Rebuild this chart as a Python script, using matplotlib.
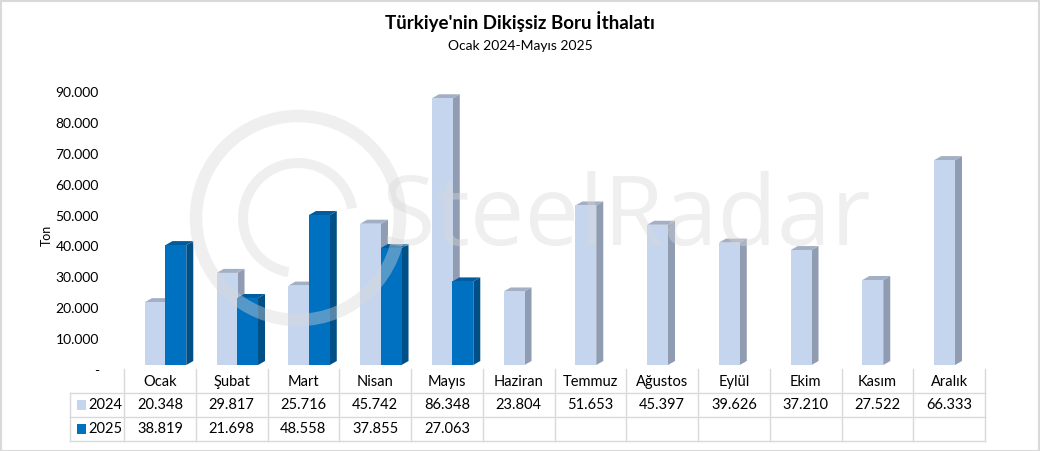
import matplotlib
matplotlib.use("Agg")
import matplotlib.pyplot as plt
import matplotlib.transforms as mtransforms
from matplotlib.patches import Polygon, Rectangle, Circle, Wedge
import numpy as np

months = ["Ocak", "Şubat", "Mart", "Nisan", "Mayıs", "Haziran", "Temmuz",
          "Ağustos", "Eylül", "Ekim", "Kasım", "Aralık"]
v2024 = [20348, 29817, 25716, 45742, 86348, 23804, 51653, 45397, 39626, 37210, 27522, 66333]
v2025 = [38819, 21698, 48558, 37855, 27063]
series_names = ["2024", "2025"]
yticks = [0, 10000, 20000, 30000, 40000, 50000, 60000, 70000, 80000, 90000]
title = "Türkiye'nin Dikişsiz Boru İthalatı"
subtitle = "Ocak 2024-Mayıs 2025"

FONT = ["Lato", "DejaVu Sans"]
plt.rcParams['font.family'] = FONT

W, H = 1040, 451
fig = plt.figure(figsize=(W / 100, H / 100), dpi=100)
fig.patch.set_facecolor("white")

# figure border
border = Rectangle((0.5 / W, 0.5 / H), 1 - 1.5 / W, 1 - 1.5 / H, transform=fig.transFigure,
                   fill=False, edgecolor="#d9d9d9", lw=1.5)
fig.patches.append(border)

x0, x1 = 124, 985
ytop, ybot = 87, 365
ax = fig.add_axes([x0 / W, (H - ybot) / H, (x1 - x0) / W, (ybot - ytop) / H])
ax.set_xlim(-0.5, 11.5)
ax.set_ylim(0, 90000)
for s in ax.spines.values():
    s.set_visible(False)
ax.set_xticks([])
ax.set_yticks(yticks)
ax.set_yticklabels(["-" if t == 0 else f"{t:,}".replace(",", ".") for t in yticks],
                   fontsize=10, color="#000000")
ax.tick_params(axis="y", length=0, pad=18)
ax.set_facecolor("none")
shift = mtransforms.ScaledTranslation(0, -5 / 100, fig.dpi_scale_trans)
for lab in ax.get_yticklabels():
    lab.set_transform(lab.get_transform() + shift)

ax.set_ylabel("Ton", fontsize=9)
ax.yaxis.set_label_coords((53 - x0) / (x1 - x0), (ybot - 235) / (ybot - ytop))

fig.text(0.5, 1 - 22 / H, title, ha="center", va="center", fontsize=13.5, fontweight="bold")
fig.text(0.5, 1 - 46 / H, subtitle, ha="center", va="center", fontsize=10)

bw = 0.29
dx = 7 / ((x1 - x0) / 12)
dy = 4 * 90000 / (ybot - ytop)
colors = {
    "2024": ("#c5d5ee", "#8f9cb2", "#a3afc4"),
    "2025": ("#0070c0", "#004f87", "#005c9e"),
}
offsets = {"2024": -0.063, "2025": 0.223}

def draw3d(xc, val, cols):
    front, side, top = cols
    l, r = xc - bw / 2, xc + bw / 2
    ax.bar(xc, val, width=bw, color=front, zorder=3, clip_on=False, linewidth=0)
    ax.add_patch(Polygon([(r, 0), (r + dx, dy), (r + dx, val + dy), (r, val)],
                         closed=True, fc=side, ec="none", zorder=2, clip_on=False))
    ax.add_patch(Polygon([(l, val), (l + dx, val + dy), (r + dx, val + dy), (r, val)],
                         closed=True, fc=top, ec="none", zorder=2, clip_on=False))

xs = np.arange(len(months))
for i, v in enumerate(v2024):
    draw3d(xs[i] + offsets["2024"], v, colors["2024"])
for i, v in enumerate(v2025):
    draw3d(xs[i] + offsets["2025"], v, colors["2025"])

# data table
trans = ax.get_xaxis_transform()
def yf(py):
    return (ybot - py) / (ybot - ytop)

grid_c = "#d9d9d9"
row_y = [369, 393, 417, 441]
label_left = -0.5 - (124 - 70) / ((x1 - x0) / 12)
for k in range(13):
    ax.plot([k - 0.5, k - 0.5], [yf(369), yf(441)], transform=trans, color=grid_c,
            lw=1, clip_on=False, zorder=1)
ax.plot([label_left, label_left], [yf(393), yf(441)], transform=trans, color=grid_c,
        lw=1, clip_on=False)
for py in row_y[1:]:
    ax.plot([label_left, 11.5], [yf(py), yf(py)], transform=trans, color=grid_c,
            lw=1, clip_on=False)

def fmt(v):
    return f"{v:,}".replace(",", ".")

for i, m in enumerate(months):
    ax.text(i, yf(382), m, transform=trans, ha="center", va="center", fontsize=10.5)
    ax.text(i, yf(405), fmt(v2024[i]), transform=trans, ha="center", va="center", fontsize=10.5)
    if i < len(v2025):
        ax.text(i, yf(429), fmt(v2025[i]), transform=trans, ha="center", va="center", fontsize=10.5)

for name, py in zip(series_names, [405, 429]):
    ax.add_patch(Rectangle((label_left + 0.1, yf(py) - 0.018), 0.12, 0.036, transform=trans,
                           fc=colors[name][0], ec="none", clip_on=False))
    ax.text(label_left + 0.26, yf(py), name, transform=trans, ha="left", va="center", fontsize=10.5)

# watermark overlay (semi-transparent, above bars)
wm_ax = fig.add_axes([0, 0, 1, 1], zorder=5)
wm_ax.set_xlim(0, W); wm_ax.set_ylim(H, 0); wm_ax.axis("off")
wm_ax.patch.set_alpha(0)
wm_col = "#d8d8d8"
wm_ax.add_patch(Circle((298, 218), 102, fill=False, ec=wm_col, lw=9, alpha=0.4))
wm_ax.add_patch(Wedge((298, 218), 60, 100, 350, width=10, fc=wm_col, ec="none", alpha=0.4))
wm_ax.text(626, 220, "SteelRadar", fontsize=70, color=wm_col, alpha=0.4, ha="center",
           va="center", family=["Open Sans", "DejaVu Sans"])

fig.savefig("out.png", dpi=100, facecolor="white")
